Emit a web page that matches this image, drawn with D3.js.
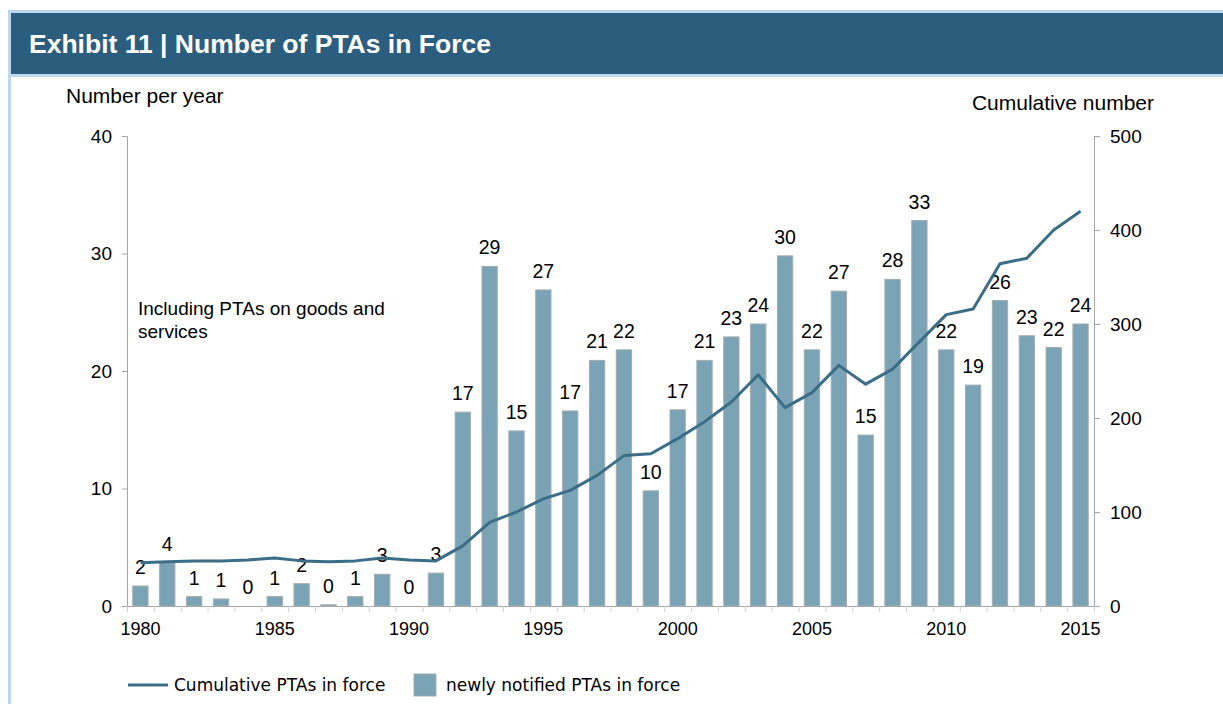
<!DOCTYPE html>
<html>
<head>
<meta charset="utf-8">
<script src="https://cdn.jsdelivr.net/npm/d3@7"></script>
<style>
  body { margin: 0; background: #fff; }
  svg { display: block; font-family: "Liberation Sans", Arial, sans-serif; }
</style>
</head>
<body>
<svg id="chart" width="1223" height="704"></svg>
<script>

// years on the category axis
var years = d3.range(1980, 2016);

// newly notified PTAs in force (bars, left axis)
var newPTAs = [1.7, 3.7, 0.8, 0.6, 0, 0.8, 1.9, 0.1, 0.8, 2.7, 0, 2.8,
	16.5, 28.9, 14.9, 26.9, 16.6, 20.9, 21.8, 9.8, 16.7, 20.9, 22.9, 24.0,
	29.8, 21.8, 26.8, 14.55, 27.8, 32.8, 21.8, 18.8, 26.0, 23.0, 22.0, 24.0];

// cumulative PTAs in force (line, right axis)
var cumulative = [46, 47, 48, 48, 49, 51, 48, 47, 48, 51, 49, 48,
	64, 89, 100, 114, 123, 139, 160, 162, 178, 196, 217, 246,
	211, 227, 256, 236, 252, 281, 310, 316, 364, 370, 400, 420];

var leftTicks = [0, 10, 20, 30, 40];
var rightTicks = [0, 100, 200, 300, 400, 500];
var yearLabels = [1980, 1985, 1990, 1995, 2000, 2005, 2010, 2015];

var svg = d3.select("#chart");

var plotLeft = 127, plotRight = 1094, plotTop = 136, plotBottom = 606;

// frame and header band
svg.append("rect").attr("x", 8).attr("y", 10).attr("width", 1223).attr("height", 700).attr("fill", "#bdd7ee");
svg.append("rect").attr("x", 11).attr("y", 77).attr("width", 1223).attr("height", 700).attr("fill", "#fff");
svg.append("rect").attr("x", 11).attr("y", 13).attr("width", 1223).attr("height", 61).attr("fill", "#2b5d7f");
svg.append("text")
	.attr("x", 29).attr("y", 53)
	.attr("fill", "#fff")
	.style("font-size", "26.5px").style("font-weight", "bold")
	.text("Exhibit 11 | Number of PTAs in Force");

var x = d3.scaleBand().domain(years).range([plotLeft, plotRight]).paddingInner(0.43).paddingOuter(0.215);
var xLin = d3.scaleLinear().domain([1979.5, 2015.5]).range([plotLeft, plotRight]);
var y = d3.scaleLinear().domain([0, 40]).range([plotBottom, plotTop]);
var y2 = d3.scaleLinear().domain([0, 500]).range([plotBottom, plotTop]);

var axisColor = "#a6a6a6";

// left axis
var gl = svg.append("g").attr("transform", "translate(" + plotLeft + ",0)")
	.call(d3.axisLeft(y).tickValues(leftTicks).tickSize(5).tickPadding(10));
// right axis
var gr = svg.append("g").attr("transform", "translate(" + plotRight + ",0)")
	.call(d3.axisRight(y2).tickValues(rightTicks).tickSize(6).tickPadding(10));
// x tick marks between categories
var gx = svg.append("g").attr("transform", "translate(0," + plotBottom + ")")
	.call(d3.axisBottom(xLin).tickValues(d3.range(1979.5, 2016, 1)).tickSize(6).tickFormat(""));
// x labels
var gxl = svg.append("g").attr("transform", "translate(0," + plotBottom + ")")
	.call(d3.axisBottom(x).tickValues(yearLabels).tickSize(0).tickPadding(16));
gxl.select(".domain").remove();

[gl, gr, gx].forEach(function (g) {
	g.select(".domain").attr("stroke", axisColor);
	g.selectAll(".tick line").attr("stroke", axisColor);
});
gx.selectAll(".tick line").attr("stroke", "#d0d0d0");
[gl, gr].forEach(function (g) {
	g.selectAll("text").style("font-size", "19px").attr("fill", "#000").style("font-family", "Liberation Sans, Arial, sans-serif");
});
gxl.selectAll("text").style("font-size", "18px").attr("fill", "#000").style("font-family", "Liberation Sans, Arial, sans-serif");

// bars
svg.append("g").selectAll("rect")
	.data(newPTAs)
	.enter()
	.append("rect")
	.attr("x", function (d, i) { return x(years[i]); })
	.attr("width", x.bandwidth())
	.attr("y", function (d) { return y(d); })
	.attr("height", function (d) { return plotBottom - y(d); })
	.attr("fill", "#7aa4b5")
	.attr("stroke", "#a3adb1")
	.attr("stroke-width", 1);

// data labels
svg.append("g").selectAll("text")
	.data(newPTAs)
	.enter()
	.append("text")
	.attr("x", function (d, i) { return x(years[i]) + x.bandwidth() / 2; })
	.attr("y", function (d) { return y(d) - 12; })
	.attr("text-anchor", "middle")
	.style("font-size", "19.5px")
	.attr("fill", "#000")
	.text(function (d) { return Math.round(d); });

// cumulative line
var line = d3.line()
	.x(function (d, i) { return x(years[i]) + x.bandwidth() / 2; })
	.y(function (d) { return y2(d); });

svg.append("path")
	.datum(cumulative)
	.attr("d", line)
	.attr("fill", "none")
	.attr("stroke", "#3b6e86")
	.attr("stroke-width", 3)
	.attr("stroke-linejoin", "round");

// axis titles
svg.append("text").attr("x", 66).attr("y", 103).style("font-size", "21px").text("Number per year");
svg.append("text").attr("x", 1154).attr("y", 110).attr("text-anchor", "end").style("font-size", "21px").text("Cumulative number");

// note
var note = svg.append("text").attr("x", 138).attr("y", 315).style("font-size", "19px");
note.append("tspan").attr("x", 138).text("Including PTAs on goods and");
note.append("tspan").attr("x", 138).attr("dy", 23).text("services");

// legend
var legend = svg.append("g").style("font-family", "DejaVu Sans, sans-serif").style("font-size", "17px");
legend.append("line").attr("x1", 128).attr("x2", 168).attr("y1", 685).attr("y2", 685)
	.attr("stroke", "#3b6e86").attr("stroke-width", 3);
legend.append("text").attr("x", 174).attr("y", 691).text("Cumulative PTAs in force");
legend.append("rect").attr("x", 414).attr("y", 674).attr("width", 22).attr("height", 22)
	.attr("fill", "#7aa4b5").attr("stroke", "#a3adb1");
legend.append("text").attr("x", 446).attr("y", 691).text("newly notified PTAs in force");

</script>
</body>
</html>
